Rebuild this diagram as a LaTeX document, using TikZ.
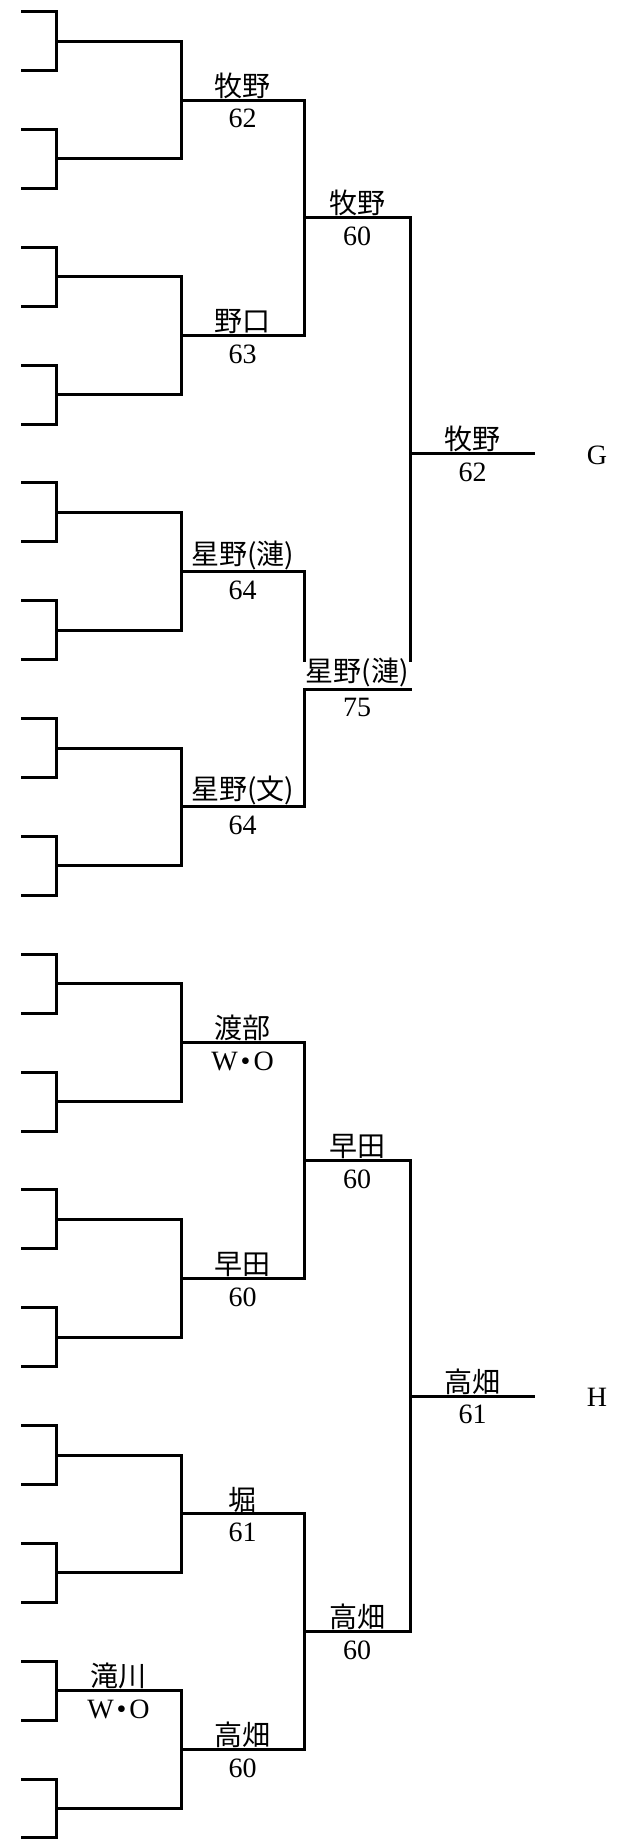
\documentclass[tikz,border=0pt]{standalone}
\usepackage{fontspec}
\setmainfont{Liberation Serif}
\newfontfamily\cjk{Noto Sans CJK JP}
\newcommand\matchlab[3]{%
  \node[toplab] (#1-w) at ([yshift=1.5pt]#1) {#2};
  \node[botlab] (#1-s) at ([yshift=-9pt]#1) {#3};}
\newcommand\wodot{W\hspace{3pt}•\hspace{3pt}O}
\begin{document}
\begin{tikzpicture}[x=1pt,y=-1pt,
  br/.style={line width=3pt,line join=miter,line cap=rect},
  toplab/.style={anchor=south,inner sep=0pt,font=\cjk\fontsize{28}{28}\selectfont},
  botlab/.style={anchor=north,inner sep=0pt,font=\fontsize{28}{28}\selectfont},
  sidelab/.style={anchor=base,inner sep=0pt,font=\fontsize{28}{28}\selectfont}]
\useasboundingbox (0,0) rectangle (620,1843);
\def\xa{22.5}\def\xb{56}\def\xc{181}\def\xd{304}\def\xe{410}\def\xf{533.5}
\def\yo{11.7}\def\dy{58.91}
% leaves
\foreach \k in {0,...,31}{
  \pgfmathsetmacro\yy{\yo+\dy*\k}
  \coordinate (s\k) at (\xa,\yy);
  \coordinate (t\k) at (\xb,\yy);
}
% level 1
\foreach \j in {0,...,15}{
  \pgfmathtruncatemacro\ia{2*\j}
  \pgfmathtruncatemacro\ib{2*\j+1}
  \pgfmathsetmacro\yy{\yo+\dy*(2*\j+0.5)}
  \coordinate (p\j) at (\xb,\yy);
  \coordinate (q\j) at (\xc,\yy);
  \coordinate (mp\j) at ({(\xb+\xc)/2},\yy);
  \draw[br] (s\ia) -- (t\ia) -- (t\ib) -- (s\ib);
  \draw[br] (p\j) -- (q\j);
}
% level 2
\foreach \j in {0,...,7}{
  \pgfmathtruncatemacro\ia{2*\j}
  \pgfmathtruncatemacro\ib{2*\j+1}
  \pgfmathsetmacro\yy{\yo+\dy*(4*\j+1.5)}
  \coordinate (r\j) at (\xc,\yy);
  \coordinate (u\j) at (\xd,\yy);
  \coordinate (mr\j) at ({(\xc+\xd)/2},\yy);
  \draw[br] (q\ia) -- (q\ib);
  \draw[br] (r\j) -- (u\j);
}
% level 3
\foreach \j in {0,...,3}{
  \pgfmathsetmacro\yy{\yo+\dy*(8*\j+3.5)}
  \coordinate (v\j) at (\xd,\yy);
  \coordinate (w\j) at (\xe,\yy);
  \coordinate (mv\j) at ({(\xd+\xe)/2},\yy);
  \draw[br] (v\j) -- (w\j);
}
\coordinate (cutA) at (\xd,660);
\coordinate (cutB) at (\xe,660);
\draw[br] (u0) -- (u1);
\draw[br] (u2) -- (cutA);
\draw[br] (v1) -- (u3);
\draw[br] (u4) -- (u5);
\draw[br] (u6) -- (u7);
% level 4
\foreach \j in {0,1}{
  \pgfmathsetmacro\yy{\yo+\dy*(16*\j+7.5)}
  \coordinate (g\j) at (\xe,\yy);
  \coordinate (h\j) at (\xf,\yy);
  \coordinate (mg\j) at ({(\xe+535)/2},\yy);
  \draw[br] (g\j) -- (h\j);
}
\draw[br] (w0) -- (cutB);
\draw[br] (w2) -- (w3);
% labels
\matchlab{mr0}{牧野}{62}
\matchlab{mr1}{野口}{63}
\matchlab{mr2}{星野(漣)}{64}
\matchlab{mr3}{星野(文)}{64}
\matchlab{mr4}{渡部}{\wodot}
\matchlab{mr5}{早田}{60}
\matchlab{mr6}{堀}{61}
\matchlab{mr7}{高畑}{60}
\matchlab{mv0}{牧野}{60}
\matchlab{mv1}{星野(漣)}{75}
\matchlab{mv2}{早田}{60}
\matchlab{mv3}{高畑}{60}
\matchlab{mg0}{牧野}{62}
\matchlab{mg1}{高畑}{61}
\matchlab{mp14}{滝川}{\wodot}
\node[sidelab] (G) at (597,464) {G};
\node[sidelab] (H) at (597,1406.6) {H};
\end{tikzpicture}
\end{document}
